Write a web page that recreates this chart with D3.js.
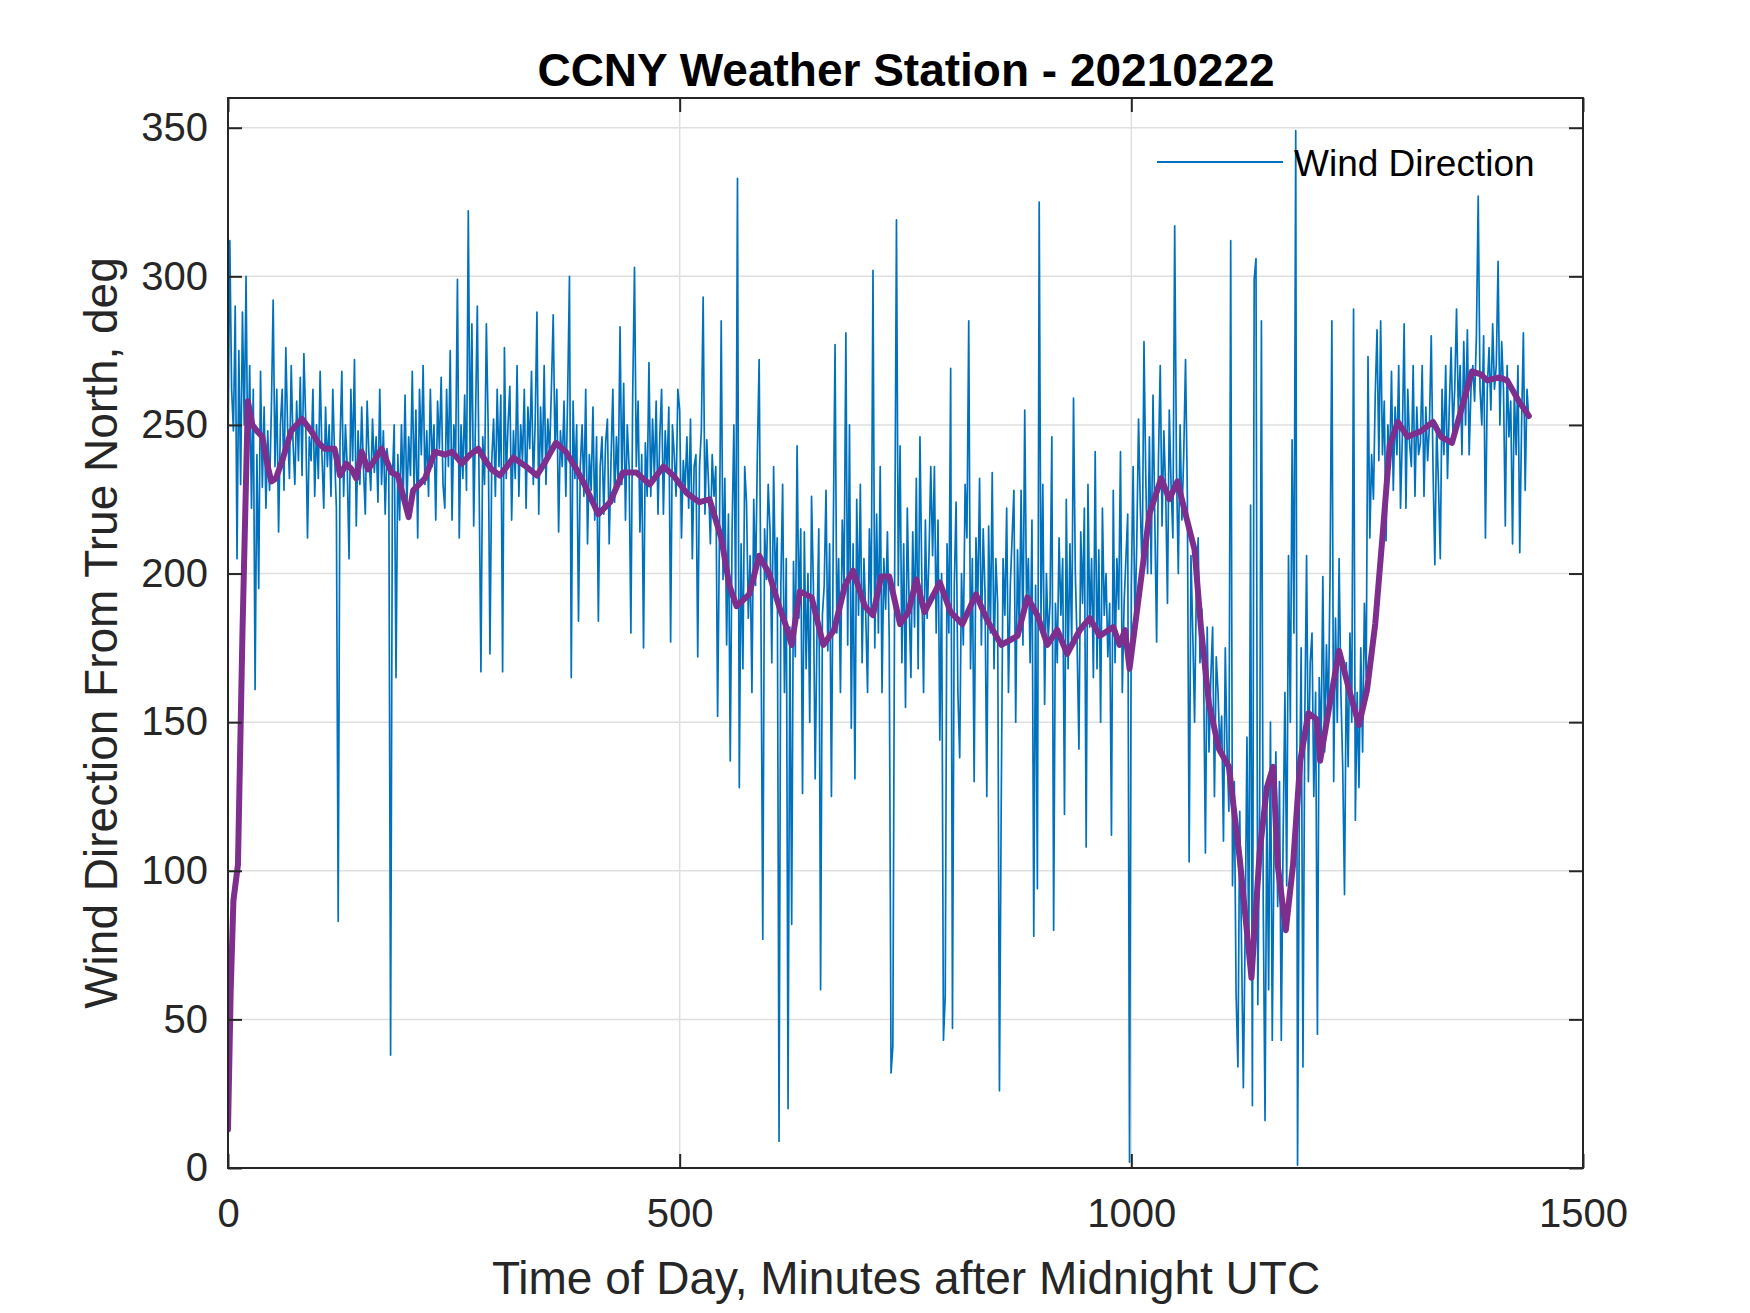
<!DOCTYPE html>
<html>
<head>
<meta charset="utf-8">
<script src="https://cdn.jsdelivr.net/npm/d3@7"></script>
<style>
  html, body { margin: 0; padding: 0; background: #fff; }
  svg { display: block; font-family: "Liberation Sans", Arial, Helvetica, sans-serif; }
</style>
</head>
<body>
<div id="chart"></div>
<script>
// ================================================
// 1. DATA
// ================================================
// raw wind direction, one reading every 2 minutes
const sampleStep = 2;
const windDirection = [
  241, 312, 262, 248, 290, 205, 275, 230, 288, 250, 300, 232, 270, 222, 262, 161, 240, 195, 268, 229, 256, 222, 248, 228, 255, 292, 236, 262, 214, 250,
  262, 228, 276, 249, 232, 270, 244, 230, 258, 238, 266, 233, 274, 252, 212, 246, 238, 262, 226, 250, 232, 268, 240, 222, 256, 236, 250, 226, 262, 240,
  222, 83, 244, 268, 226, 250, 236, 205, 262, 238, 272, 216, 248, 230, 256, 235, 220, 258, 240, 228, 252, 234, 246, 224, 262, 230, 248, 220, 242, 236,
  38, 232, 250, 165, 240, 218, 250, 226, 260, 222, 246, 233, 268, 228, 255, 212, 262, 240, 270, 230, 248, 226, 262, 236, 250, 218, 258, 242, 266, 230,
  222, 262, 236, 275, 218, 250, 240, 299, 212, 250, 232, 260, 228, 322, 240, 284, 216, 252, 290, 230, 167, 246, 230, 284, 250, 173, 238, 252, 226, 262,
  236, 260, 167, 276, 232, 250, 263, 218, 248, 232, 270, 226, 250, 238, 262, 222, 256, 242, 268, 230, 250, 288, 220, 256, 236, 270, 230, 252, 240, 262,
  287, 242, 262, 214, 248, 236, 258, 226, 260, 300, 165, 258, 232, 250, 184, 236, 250, 226, 262, 210, 240, 228, 256, 218, 246, 184, 236, 246, 220, 244,
  252, 210, 238, 262, 224, 246, 230, 283, 230, 264, 218, 250, 236, 180, 260, 303, 236, 258, 214, 240, 175, 244, 226, 271, 226, 252, 232, 258, 220, 246,
  262, 220, 248, 234, 256, 177, 250, 240, 226, 262, 255, 212, 238, 228, 246, 222, 252, 205, 236, 240, 172, 236, 248, 293, 220, 245, 230, 210, 240, 226,
  236, 152, 212, 285, 198, 232, 176, 220, 137, 214, 250, 190, 333, 128, 210, 168, 236, 224, 185, 206, 160, 225, 196, 240, 272, 185, 77, 215, 198, 230,
  215, 170, 236, 196, 212, 9, 196, 230, 160, 205, 20, 182, 82, 204, 172, 243, 185, 215, 126, 214, 168, 200, 150, 226, 196, 131, 180, 215, 60, 186,
  196, 228, 174, 210, 125, 212, 277, 180, 205, 160, 218, 196, 281, 176, 250, 148, 210, 131, 225, 186, 230, 170, 205, 186, 160, 215, 188, 302, 175, 220,
  180, 236, 160, 205, 188, 214, 178, 32, 41, 200, 319, 196, 243, 170, 210, 155, 222, 190, 165, 214, 182, 232, 168, 246, 200, 160, 218, 185, 206, 236,
  206, 236, 180, 218, 144, 200, 43, 58, 210, 180, 269, 47, 196, 224, 160, 138, 200, 176, 230, 212, 285, 168, 205, 130, 212, 190, 232, 176, 215, 194,
  125, 216, 180, 234, 168, 205, 190, 26, 124, 205, 186, 222, 160, 196, 212, 228, 150, 208, 180, 228, 176, 255, 190, 205, 170, 218, 78, 196, 94, 325,
  185, 230, 156, 200, 178, 190, 246, 80, 190, 170, 212, 186, 205, 119, 225, 168, 210, 176, 259, 200, 176, 141, 214, 190, 222, 108, 230, 182, 205, 165,
  241, 168, 208, 150, 222, 186, 200, 172, 190, 112, 228, 170, 205, 188, 241, 160, 190, 205, 220, 2, 196, 236, 182, 210, 252, 222, 200, 278, 232, 200,
  246, 200, 260, 218, 177, 238, 270, 216, 248, 228, 190, 255, 230, 212, 317, 235, 200, 250, 218, 240, 272, 227, 103, 206, 180, 150, 196, 212, 170, 188,
  168, 106, 182, 140, 165, 182, 125, 172, 160, 140, 152, 110, 175, 140, 120, 312, 95, 130, 58, 34, 120, 75, 27, 80, 145, 70, 223, 21, 299, 306,
  55, 120, 285, 90, 16, 123, 60, 150, 43, 110, 140, 88, 130, 43, 110, 160, 95, 206, 150, 245, 180, 349, 1, 120, 175, 34, 150, 206, 130, 170,
  180, 125, 160, 45, 165, 140, 199, 140, 176, 150, 200, 285, 130, 185, 150, 205, 160, 135, 92, 170, 135, 180, 150, 289, 117, 160, 128, 175, 140, 190,
  165, 273, 212, 240, 225, 260, 282, 238, 285, 240, 258, 211, 250, 236, 268, 228, 256, 240, 270, 222, 246, 284, 222, 262, 244, 236, 270, 226, 256, 240,
  244, 270, 226, 256, 238, 250, 280, 235, 203, 250, 230, 205, 262, 240, 270, 232, 256, 276, 248, 262, 289, 254, 270, 240, 278, 250, 282, 240, 262, 270,
  258, 280, 327, 262, 250, 280, 212, 262, 276, 255, 284, 262, 270, 305, 250, 278, 262, 216, 270, 246, 258, 210, 262, 240, 270, 207, 250, 281, 228, 262,
  252
];

// smoothed (moving average) trace
const smoothMinutes = [
  0, 3, 6, 11, 16, 22, 27, 32, 38, 44, 48, 53, 60, 70, 82, 92, 100, 107, 118, 124,
  131, 137, 142, 148, 155, 162, 170, 181, 188, 200, 205, 218, 229, 240, 248, 259, 268, 277, 285, 292,
  301, 316, 330, 342, 352, 363, 374, 384, 393, 410, 423, 437, 452, 467, 482, 493, 508, 522, 533, 546,
  555, 563, 577, 588, 599, 610, 617, 624, 633, 646, 659, 671, 683, 692, 705, 714, 723, 732, 744, 753,
  762, 771, 788, 800, 813, 828, 841, 856, 874, 885, 896, 907, 918, 929, 943, 954, 965, 980, 987, 993,
  998, 1009, 1020, 1033, 1042, 1051, 1060, 1070, 1077, 1086, 1097, 1108, 1120, 1133, 1142, 1150, 1157, 1162, 1171, 1179,
  1187, 1196, 1205, 1209, 1219, 1230, 1241, 1252, 1261, 1270, 1279, 1286, 1295, 1306, 1321, 1334, 1343, 1355, 1366, 1377,
  1387, 1394, 1407, 1416, 1429, 1440
];
const smoothValues = [
  13, 60, 90, 102, 180, 258, 250, 248, 246, 236, 231, 232, 238, 248, 252, 248, 244, 242, 242, 233,
  237, 235, 232, 241, 235, 238, 242, 234, 233, 219, 228, 232, 241, 240, 241, 237, 240, 242, 238, 235,
  233, 239, 236, 233, 238, 244, 241, 236, 231, 220, 224, 234, 234, 230, 236, 233, 227, 224, 225, 212,
  196, 189, 193, 206, 200, 189, 183, 176, 194, 192, 176, 181, 196, 201, 189, 186, 199, 199, 183, 187,
  198, 187, 197, 187, 183, 193, 184, 176, 179, 192, 186, 176, 181, 173, 181, 185, 179, 182, 176, 181,
  168, 194, 220, 232, 225, 231, 220, 208, 182, 156, 141, 135, 104, 64, 106, 128, 135, 102, 80, 102,
  137, 153, 151, 137, 155, 174, 161, 149, 161, 183, 216, 243, 251, 246, 248, 251, 246, 244, 256, 268,
  267, 265, 266, 265, 258, 253
];

const xTicks = [0, 500, 1000, 1500];
const yTicks = [0, 50, 100, 150, 200, 250, 300, 350];

const titleText = "CCNY Weather Station - 20210222";
const xLabelText = "Time of Day, Minutes after Midnight UTC";
const yLabelText = "Wind Direction From True North, deg";
const legendText = "Wind Direction";

// ================================================
// 2. SVG SETUP
// ================================================
const W = 1750, H = 1313;
const plot = { left: 228, top: 98, right: 1583, bottom: 1168 };
const axisColor = "#262626";
const gridColor = "#dfdfdf";
const blue = "#0072BD";
const purple = "#7E2F8E";

const svg = d3.select("#chart").append("svg")
  .attr("width", W)
  .attr("height", H);

svg.append("rect").attr("width", W).attr("height", H).attr("fill", "#fff");

const x = d3.scaleLinear().domain([0, 1500]).range([plot.left, plot.right]);
const y = d3.scaleLinear().domain([0, 360]).range([plot.bottom, plot.top]);

// ================================================
// 3. GRID
// ================================================
const grid = svg.append("g").attr("class", "grid");
grid.selectAll("line.gx")
  .data(xTicks.filter(d => d > 0 && d < 1500))
  .join("line")
  .attr("x1", d => x(d)).attr("x2", d => x(d))
  .attr("y1", plot.top).attr("y2", plot.bottom)
  .attr("stroke", gridColor).attr("stroke-width", 1.5);
grid.selectAll("line.gy")
  .data(yTicks.filter(d => d > 0))
  .join("line")
  .attr("x1", plot.left).attr("x2", plot.right)
  .attr("y1", d => y(d)).attr("y2", d => y(d))
  .attr("stroke", gridColor).attr("stroke-width", 1.5);

// ================================================
// 4. LINES
// ================================================
svg.append("clipPath").attr("id", "clip")
  .append("rect")
  .attr("x", plot.left).attr("y", plot.top)
  .attr("width", plot.right - plot.left).attr("height", plot.bottom - plot.top);

const rawLine = d3.line()
  .x((d, i) => x(i * sampleStep))
  .y(d => y(d));

svg.append("path")
  .datum(windDirection)
  .attr("clip-path", "url(#clip)")
  .attr("fill", "none")
  .attr("stroke", blue)
  .attr("stroke-width", 1.7)
  .attr("stroke-linejoin", "round")
  .attr("d", rawLine);

const smoothLine = d3.line()
  .x((d, i) => x(smoothMinutes[i]))
  .y(d => y(d));

svg.append("path")
  .datum(smoothValues)
  .attr("clip-path", "url(#clip)")
  .attr("fill", "none")
  .attr("stroke", purple)
  .attr("stroke-width", 6)
  .attr("stroke-linejoin", "round")
  .attr("stroke-linecap", "round")
  .attr("d", smoothLine);

// ================================================
// 5. AXES (MATLAB style: box, inward ticks on all sides)
// ================================================
const tickLen = 14;

const xAxis = svg.append("g")
  .attr("transform", `translate(0,${plot.bottom})`)
  .call(d3.axisBottom(x).tickValues(xTicks).tickFormat(d3.format("d"))
    .tickSize(-tickLen).tickSizeOuter(0).tickPadding(31));
const yAxis = svg.append("g")
  .attr("transform", `translate(${plot.left},0)`)
  .call(d3.axisLeft(y).tickValues(yTicks).tickFormat(d3.format("d"))
    .tickSize(-tickLen).tickSizeOuter(0).tickPadding(20));
const xTop = svg.append("g")
  .attr("transform", `translate(0,${plot.top})`)
  .call(d3.axisTop(x).tickValues(xTicks).tickSize(-tickLen).tickSizeOuter(0).tickFormat(""));
const yRight = svg.append("g")
  .attr("transform", `translate(${plot.right},0)`)
  .call(d3.axisRight(y).tickValues(yTicks).tickSize(-tickLen).tickSizeOuter(0).tickFormat(""));

[xAxis, yAxis, xTop, yRight].forEach(g => {
  g.select(".domain").remove();
  g.selectAll(".tick line").attr("stroke", axisColor).attr("stroke-width", 2);
  g.selectAll(".tick text")
    .attr("fill", axisColor)
    .style("font-size", "40px")
    .style("font-family", "\"Liberation Sans\", Arial, sans-serif");
});

svg.append("rect")
  .attr("x", plot.left).attr("y", plot.top)
  .attr("width", plot.right - plot.left).attr("height", plot.bottom - plot.top)
  .attr("fill", "none")
  .attr("stroke", axisColor)
  .attr("stroke-width", 2);

// ================================================
// 6. TEXT
// ================================================
svg.append("text")
  .attr("x", 906).attr("y", 86)
  .attr("text-anchor", "middle")
  .style("font-size", "46px")
  .style("font-weight", "bold")
  .attr("fill", "#000")
  .text(titleText);

svg.append("text")
  .attr("x", 906).attr("y", 1294)
  .attr("text-anchor", "middle")
  .style("font-size", "46px")
  .attr("fill", axisColor)
  .text(xLabelText);

svg.append("text")
  .attr("transform", `translate(117,${(plot.top + plot.bottom) / 2}) rotate(-90)`)
  .attr("text-anchor", "middle")
  .style("font-size", "46px")
  .attr("fill", axisColor)
  .text(yLabelText);

// legend (no box, only the raw series)
const legend = svg.append("g");
legend.append("line")
  .attr("x1", 1157).attr("x2", 1283)
  .attr("y1", 162).attr("y2", 162)
  .attr("stroke", blue).attr("stroke-width", 2);
legend.append("text")
  .attr("x", 1294).attr("y", 176)
  .style("font-size", "37px")
  .attr("fill", "#000")
  .text(legendText);
</script>
</body>
</html>
